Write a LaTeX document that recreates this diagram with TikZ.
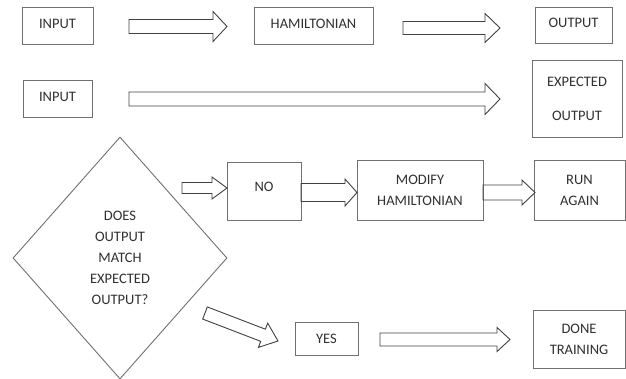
\documentclass[tikz,border=0pt]{standalone}
\usepackage{fontspec}
\setmainfont{Carlito}
\usetikzlibrary{positioning,calc,shapes.geometric}

\definecolor{boxgray}{HTML}{707070}
\definecolor{arrgray}{HTML}{404040}
\definecolor{txtgray}{HTML}{303030}

\tikzset{
  box/.style={draw=boxgray, line width=0.9pt, align=center, inner sep=0pt,
    text=txtgray},
  % hollow block arrow: body half width, head half width, head length
  fat arrow/.style n args={3}{draw=arrgray, line width=0.9pt, to path={
    let \p1=($(\tikztotarget)-(\tikztostart)$), \n1={veclen(\x1,\y1)},
        \n2={atan2(\y1,\x1)} in
    {[shift={(\tikztostart)},rotate=\n2]
      (0pt,-#1) -- (\n1-#3,-#1) -- (\n1-#3,-#2) -- (\n1,0pt)
      -- (\n1-#3,#2) -- (\n1-#3,#1) -- (0pt,#1) -- cycle}}},
}

\begin{document}
\begin{tikzpicture}[x=1pt,y=-1pt,font=\fontsize{14.5}{21}\selectfont]
  \useasboundingbox (0,0) rectangle (626,379);

  %% top row
  \node[box,minimum width=71,minimum height=37,text depth=4pt] (in1) at (57.5,25.5) {INPUT};
  \node[box,minimum width=119,minimum height=37,text depth=4pt] (ham) at (313.5,25.5) {HAMILTONIAN};
  \node[box,minimum width=77,minimum height=36,text depth=4pt] (out1) at (573.5,25) {OUTPUT};

  %% second row
  \node[box,minimum width=69,minimum height=37,text depth=4pt] (in2) at (57.5,98.5) {INPUT};
  \node[box,minimum width=90,minimum height=77] (expout) at (577,98.5)
    {EXPECTED\\[13pt]OUTPUT};

  %% decision
  \node[box,diamond,minimum width=214,minimum height=242] (match) at (120,258)
    {DOES\\OUTPUT\\MATCH\\EXPECTED\\OUTPUT?};

  \node[box,minimum width=74,minimum height=58,text depth=9pt] (no) at (264,191) {NO};
  \node[box,minimum width=126,minimum height=60] (modify) at (420,190)
    {MODIFY\\HAMILTONIAN};
  \node[box,minimum width=91,minimum height=60] (again) at (579.5,190)
    {RUN\\AGAIN};
  \node[box,minimum width=63,minimum height=33] (yes) at (326.5,338.5) {YES};
  \node[box,minimum width=92,minimum height=58] (done) at (579,339)
    {DONE\\TRAINING};

  %% arrow ends
  \coordinate (a1s) at (129,26.5);  \coordinate (a1e) at (227,26.5);
  \coordinate (a2s) at (403,28);    \coordinate (a2e) at (500,28);
  \coordinate (a3s) at (129,99);    \coordinate (a3e) at (500,99);
  \coordinate (a4s) at (182,188);   \coordinate (a4e) at (227,188);
  \coordinate (a5s) at (301,192.5); \coordinate (a5e) at (357,192.5);
  \coordinate (a6s) at (483,192.5); \coordinate (a6e) at (535,192.5);
  \coordinate (a7s) at (205,313);   \coordinate (a7e) at (278,341);
  \coordinate (a8s) at (380,339.5); \coordinate (a8e) at (510,339.5);

  \draw[fat arrow={7pt}{15pt}{14pt}] (a1s) to (a1e);
  \draw[fat arrow={6.5pt}{14.5pt}{15pt}] (a2s) to (a2e);
  \draw[fat arrow={7pt}{15.5pt}{15pt}] (a3s) to (a3e);
  \draw[fat arrow={5.5pt}{11pt}{15pt}] (a4s) to (a4e);
  \draw[fat arrow={9pt}{13.5pt}{12pt}] (a5s) to (a5e);
  \draw[fat arrow={7.5pt}{12.5pt}{13pt}] (a6s) to (a6e);
  \draw[fat arrow={6.5pt}{13pt}{16pt}] (a7s) to (a7e);
  \draw[fat arrow={6.5pt}{12pt}{13pt}] (a8s) to (a8e);
\end{tikzpicture}
\end{document}
